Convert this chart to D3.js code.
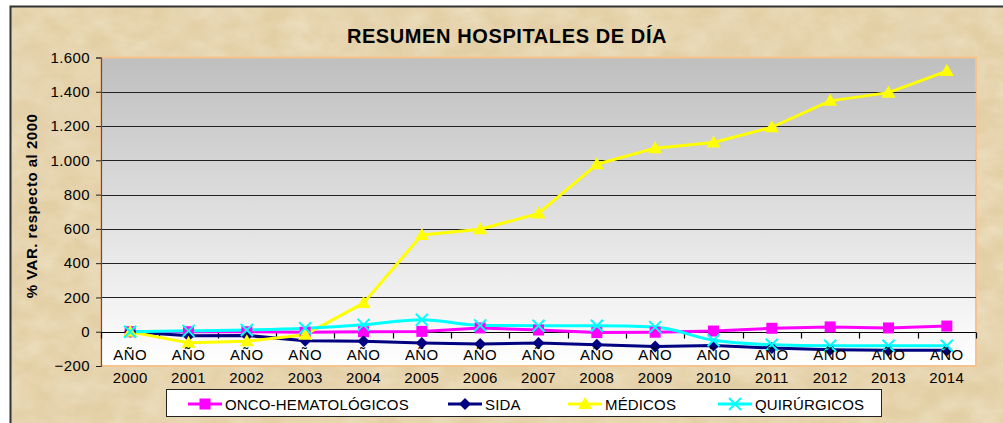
<!DOCTYPE html>
<html><head><meta charset="utf-8">
<script src="https://cdn.jsdelivr.net/npm/d3@7"></script>
<style>html,body{margin:0;padding:0;background:#fff;overflow:hidden}</style>
</head><body>
<script>
const years = ["2000","2001","2002","2003","2004","2005","2006","2007","2008","2009","2010","2011","2012","2013","2014"];
const seriesNames = ["ONCO-HEMATOLÓGICOS","SIDA","MÉDICOS","QUIRÚRGICOS"];
const onco = [0,0,0,-3,0,2,22,10,-5,-3,4,20,28,22,33];
const sida = [0,-24,-22,-52,-56,-66,-72,-66,-76,-86,-80,-95,-105,-108,-108];
const medicos = [0,-65,-56,-17,167,565,598,690,977,1071,1104,1193,1347,1395,1521];
const quirurgicos = [0,5,10,20,40,70,37,35,35,27,-50,-76,-82,-82,-82];
const yTicks = [-200,0,200,400,600,800,1000,1200,1400,1600];
const title = "RESUMEN HOSPITALES DE DÍA";
const yTitle = "% VAR. respecto al 2000";
const xPrefix = "AÑO";

const W = 1003, H = 423;
const FONT = "'Liberation Sans', Arial, sans-serif";
const svg = d3.select("body").append("svg").attr("width", W).attr("height", H)
  .style("font-family", FONT);
const defs = svg.append("defs");

// parchment texture
const f = defs.append("filter").attr("id","paper").attr("x",0).attr("y",0).attr("width","100%").attr("height","100%");
f.append("feTurbulence").attr("type","fractalNoise").attr("baseFrequency","0.035 0.05").attr("numOctaves",4).attr("seed",7).attr("result","n");
f.append("feColorMatrix").attr("in","n").attr("type","matrix")
  .attr("values","0 0 0 0 0.93  0 0 0 0 0.86  0 0 0 0 0.70  0.9 0 0 0 -0.25").attr("result","c");
f.append("feComposite").attr("in","c").attr("in2","SourceGraphic").attr("operator","in");
svg.append("rect").attr("x",10).attr("y",6).attr("width",W).attr("height",H).attr("fill","#e3cfa5");
svg.append("rect").attr("x",10).attr("y",6).attr("width",W).attr("height",H).attr("fill","#f0e2bf").attr("filter","url(#paper)").attr("opacity",0.85);
const f2 = defs.append("filter").attr("id","paper2").attr("x",0).attr("y",0).attr("width","100%").attr("height","100%");
f2.append("feTurbulence").attr("type","fractalNoise").attr("baseFrequency","0.012").attr("numOctaves",3).attr("seed",3).attr("result","n");
f2.append("feColorMatrix").attr("in","n").attr("type","matrix")
  .attr("values","0 0 0 0 0.78  0 0 0 0 0.66  0 0 0 0 0.47  1.2 0 0 0 -0.5");
svg.append("rect").attr("x",10).attr("y",6).attr("width",W).attr("height",H).attr("filter","url(#paper2)").attr("opacity",0.6);
// outer border (top & left)
svg.append("path").attr("d",`M10.5,${H} V6.5 H${W}`).attr("fill","none").attr("stroke","#333").attr("stroke-width",2);

const m = {left:101, top:57.5, right:976, bottom:366};
const x = d3.scaleBand().domain(years).range([m.left, m.right]);
const y = d3.scaleLinear().domain([-200,1600]).range([m.bottom, m.top]);

const g = defs.append("linearGradient").attr("id","bg").attr("x1",0).attr("y1",0).attr("x2",0).attr("y2",1);
g.append("stop").attr("offset","0").attr("stop-color","#bfbfbf");
g.append("stop").attr("offset","1").attr("stop-color","#ffffff");
svg.append("rect").attr("x",m.left).attr("y",m.top).attr("width",m.right-m.left).attr("height",m.bottom-m.top)
  .attr("fill","url(#bg)").attr("stroke","#f6c38e").attr("stroke-width",2);

// gridlines
svg.append("g").selectAll("line").data(yTicks.filter(d=>d>-200 && d<1600)).join("line")
  .attr("x1",m.left).attr("x2",m.right).attr("y1",d=>Math.round(y(d))+0.5).attr("y2",d=>Math.round(y(d))+0.5)
  .attr("stroke","#222").attr("stroke-width",1);

// y axis
const loc = d3.formatLocale({decimal:",", thousands:".", grouping:[3], currency:["","€"]});
const yAxis = d3.axisLeft(y).tickValues(yTicks).tickFormat(loc.format(",d")).tickSize(5).tickPadding(6);
const ya = svg.append("g").attr("transform",`translate(${m.left},0)`).call(yAxis);
ya.select(".domain").attr("stroke","#555").attr("stroke-width",1.2);
ya.selectAll(".tick line").attr("stroke","#222");
ya.selectAll("text").attr("font-size","15px").attr("letter-spacing","0.4px").attr("fill","#000").attr("font-family",FONT);

// x axis at zero
const y0 = Math.round(y(0))+0.5;
svg.append("line").attr("x1",m.left).attr("x2",m.right).attr("y1",y0).attr("y2",y0).attr("stroke","#000").attr("stroke-width",1.2);
const bounds = years.map((d)=>x(d)).concat([m.right]);
svg.append("g").selectAll("line").data(bounds).join("line")
  .attr("x1",d=>Math.round(d)+0.5).attr("x2",d=>Math.round(d)+0.5).attr("y1",y0).attr("y2",y0+6)
  .attr("stroke","#000").attr("stroke-width",1.2);

// series
const series = [
  {name:seriesNames[0], values:onco, color:"#ff00ff", marker:"square", smooth:false},
  {name:seriesNames[1], values:sida, color:"#000080", marker:"diamond", smooth:false},
  {name:seriesNames[2], values:medicos, color:"#ffff00", marker:"triangle", smooth:false},
  {name:seriesNames[3], values:quirurgicos, color:"#00ffff", marker:"x", smooth:true}
];
const cx = d => x(d)+x.bandwidth()/2;
const lineStraight = d3.line().x((v,i)=>cx(years[i])).y(v=>y(v));
const lineSmooth = d3.line().x((v,i)=>cx(years[i])).y(v=>y(v)).curve(d3.curveMonotoneX);

function drawMarker(sel, type, color){
  if(type==="square") sel.append("rect").attr("x",-5.5).attr("y",-5.5).attr("width",11).attr("height",11).attr("fill",color);
  else if(type==="diamond") sel.append("path").attr("d","M0,-6L6,0L0,6L-6,0Z").attr("fill",color);
  else if(type==="triangle") sel.append("path").attr("d","M0,-7L7,5L-7,5Z").attr("fill",color);
  else sel.append("path").attr("d","M-6,-6L6,6M-6,6L6,-6").attr("stroke",color).attr("stroke-width",2).attr("fill","none");
}

series.forEach(s=>{
  svg.append("path").datum(s.values).attr("d",s.smooth?lineSmooth:lineStraight).attr("fill","none")
    .attr("stroke",s.color).attr("stroke-width",3).attr("stroke-linejoin","round");
});
series.forEach(s=>{
  s.values.forEach((v,i)=>{
    const gm = svg.append("g").attr("transform",`translate(${cx(years[i])},${y(v)})`);
    drawMarker(gm, s.marker, s.color);
  });
});

// x labels (drawn above lines like the reference)
const xl = svg.append("g").selectAll("text").data(years).join("text")
  .attr("x",d=>cx(d)).attr("text-anchor","middle").attr("font-size","15px").attr("letter-spacing","0.4px").attr("fill","#000");
xl.append("tspan").attr("x",d=>cx(d)).attr("y",360).text(xPrefix);
xl.append("tspan").attr("x",d=>cx(d)).attr("y",383).text(d=>d);

// title
svg.append("text").attr("x",507).attr("y",43).attr("text-anchor","middle").attr("font-size","20px")
  .attr("letter-spacing","0.6px").attr("font-weight","bold").attr("fill","#000").text(title);
svg.append("text").attr("transform","translate(37,206) rotate(-90)").attr("text-anchor","middle")
  .attr("font-size","15px").attr("letter-spacing","0.5px").attr("font-weight","bold").attr("fill","#000").text(yTitle);

// legend
svg.append("rect").attr("x",166.5).attr("y",389.5).attr("width",715).attr("height",27).attr("fill","#fff").attr("stroke","#222").attr("stroke-width",1);
const legX = [188, 448, 568, 718];
series.forEach((s,i)=>{
  const lg = svg.append("g").attr("transform",`translate(${legX[i]},404)`);
  lg.append("line").attr("x1",0).attr("x2",34).attr("y1",0).attr("y2",0).attr("stroke",s.color).attr("stroke-width",3);
  const mk = lg.append("g").attr("transform","translate(17,0)");
  drawMarker(mk, s.marker, s.color);
  lg.append("text").attr("x",37).attr("y",5.5).attr("font-size","15px").attr("letter-spacing","0.15px").attr("fill","#000").text(s.name);
});
</script>
</body></html>
